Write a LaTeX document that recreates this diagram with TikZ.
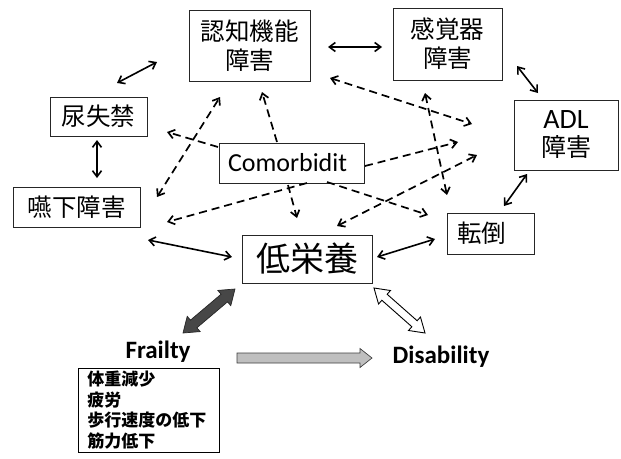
\documentclass[tikz,border=0pt]{standalone}
\usepackage{fontspec}
\setmainfont{Carlito}
\newfontfamily\jp{Noto Sans CJK JP}
\usetikzlibrary{arrows.meta,calc}
\newcommand\fatdbl[6]{%
 \path[#6] (#1) -- ($(#1)!#5!(#2)!#4!90:(#2)$) -- ($(#1)!#5!(#2)!#3!90:(#2)$)
  -- ($(#2)!#5!(#1)!#3!-90:(#1)$) -- ($(#2)!#5!(#1)!#4!-90:(#1)$) -- (#2)
  -- ($(#2)!#5!(#1)!#4!90:(#1)$) -- ($(#2)!#5!(#1)!#3!90:(#1)$)
  -- ($(#1)!#5!(#2)!#3!-90:(#2)$) -- ($(#1)!#5!(#2)!#4!-90:(#2)$) -- cycle;}
\newcommand\fatsgl[6]{%
 \path[#6] ($(#1)!#3!90:(#2)$) -- ($(#2)!#5!(#1)!#3!-90:(#1)$) -- ($(#2)!#5!(#1)!#4!-90:(#1)$) -- (#2)
  -- ($(#2)!#5!(#1)!#4!90:(#1)$) -- ($(#2)!#5!(#1)!#3!90:(#1)$) -- ($(#1)!#3!-90:(#2)$) -- cycle;}
\begin{document}
\begin{tikzpicture}[x=1pt,y=-1pt,
 box/.style={draw=black!85, line width=0.9pt, inner sep=0pt, align=center},
 jpbig/.style={font=\jp\fontsize{24.5}{29}\selectfont},
 sol/.style={line width=1.6pt, {Straight Barb[length=6pt,width=9pt]}-{Straight Barb[length=6pt,width=9pt]}},
 dsh/.style={line width=1.7pt, dash pattern=on 8pt off 5pt, -{Straight Barb[length=6pt,width=9pt]}},
 dshd/.style={line width=1.7pt, dash pattern=on 8pt off 5pt, {Straight Barb[length=6pt,width=9pt]}-{Straight Barb[length=6pt,width=9pt]}},
 lbl/.style={font=\bfseries\fontsize{25}{29}\selectfont, inner sep=0pt},
]
\useasboundingbox (0,0) rectangle (621,458);
\fill[white] (0,0) rectangle (621,458);

% nodes
\node[box, jpbig, minimum width=121pt, minimum height=71pt] (cog) at (249.5,45.5) {認知機能\\障害};
\node[box, jpbig, minimum width=109pt, minimum height=72pt] (sen) at (447.5,44) {感覚器\\障害};
\node[box, minimum width=104pt, minimum height=70pt, font=\fontsize{28}{28}\selectfont] (adl) at (566,135) {ADL\\{\jp\fontsize{25}{28}\selectfont 障害}};
\node[box, jpbig, minimum width=97pt, minimum height=39pt] (uri) at (98.5,116.5) {尿失禁};
\node[box, jpbig, minimum width=127pt, minimum height=40pt] (dys) at (76.5,207) {嚥下障害};
\node[box, minimum width=145pt, minimum height=40pt, text width=127pt, align=left, font=\fontsize{26}{30}\selectfont] (com) at (291.5,163) {Comorbidit};
\node[box, minimum width=130pt, minimum height=48pt, font=\jp\fontsize{34}{38}\selectfont] (mal) at (307,259) {低栄養};
\node[box, minimum width=87pt, minimum height=41pt, text width=67pt, align=left, jpbig] (fal) at (490.5,233.5) {転倒};
\node[lbl] (fra) at (158,352) {Frailty};
\node[lbl] (dis) at (441,357) {Disability};
\node[draw, line width=0.8pt, anchor=north west, inner xsep=9pt, inner ysep=3pt, minimum width=141pt, text width=123pt, align=left,
  font=\jp\bfseries\fontsize{17}{20.5}\selectfont] (lst) at (78,368) {体重減少\\疲労\\歩行速度の低下\\筋力低下};

% solid connectors
\coordinate (s1a) at (117,83); \coordinate (s1b) at (157,62);
\coordinate (s2a) at (328,47); \coordinate (s2b) at (382,47);
\coordinate (s3a) at (517,66); \coordinate (s3b) at (538,93);
\coordinate (s4a) at (97,140); \coordinate (s4b) at (97,178);
\coordinate (s5a) at (527,174); \coordinate (s5b) at (504,206);
\coordinate (s6a) at (148,240); \coordinate (s6b) at (232,257);
\coordinate (s7a) at (377,257); \coordinate (s7b) at (435,239);
\draw[sol] (s1a) -- (s1b);
\draw[sol] (s2a) -- (s2b);
\draw[sol] (s3a) -- (s3b);
\draw[sol] (s4a) -- (s4b);
\draw[sol] (s5a) -- (s5b);
\draw[sol] (s6a) -- (s6b);
\draw[sol] (s7a) -- (s7b);

% dashed connectors
\coordinate (d1a) at (157,197); \coordinate (d1b) at (220,97);
\coordinate (d2a) at (218,147); \coordinate (d2b) at (167,132);
\coordinate (d3a) at (277,142); \coordinate (d3b) at (262,92);
\coordinate (d4a) at (307,183); \coordinate (d4b) at (167,222);
\coordinate (d5a) at (288,185); \coordinate (d5b) at (297,218);
\coordinate (d6a) at (327,182); \coordinate (d6b) at (428,215);
\coordinate (d7a) at (365,166); \coordinate (d7b) at (458,142);
\coordinate (d8a) at (330,78);  \coordinate (d8b) at (472,124);
\coordinate (d9a) at (425,93);  \coordinate (d9b) at (447,195);
\coordinate (d10a) at (337,226); \coordinate (d10b) at (477,155);
\draw[dshd] (d1a) -- (d1b);
\draw[dsh] (d2a) -- (d2b);
\draw[dsh] (d3a) -- (d3b);
\draw[dsh] (d4a) -- (d4b);
\draw[dsh] (d5a) -- (d5b);
\draw[dsh] (d6a) -- (d6b);
\draw[dsh] (d7a) -- (d7b);
\draw[dshd] (d8a) -- (d8b);
\draw[dshd] (d9a) -- (d9b);
\draw[dshd] (d10a) -- (d10b);

% fat arrows
\coordinate (f1a) at (183,333); \coordinate (f1b) at (235,289);
\coordinate (f2a) at (374,288); \coordinate (f2b) at (425,333);
\coordinate (f3a) at (237,358); \coordinate (f3b) at (372,358);
\fatdbl{f1a}{f1b}{5pt}{10pt}{14pt}{fill=black!72, draw=black!85, line width=0.7pt}
\fatdbl{f2a}{f2b}{4pt}{9pt}{14pt}{fill=white, draw=black, line width=0.9pt}
\fatsgl{f3a}{f3b}{5pt}{9.5pt}{12pt}{fill=black!25, draw=black!75, line width=0.7pt}
\end{tikzpicture}
\end{document}
